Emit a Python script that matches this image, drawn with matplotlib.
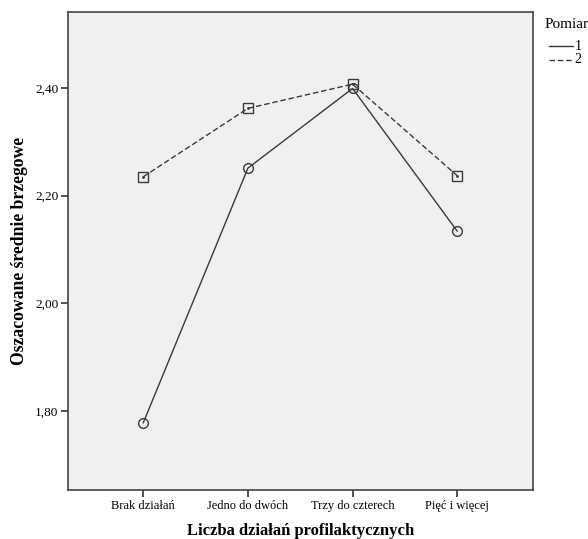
import matplotlib
matplotlib.use("Agg")
import matplotlib.pyplot as plt
from matplotlib.lines import Line2D
from matplotlib.ticker import FuncFormatter

plt.rcParams['font.family'] = ['Liberation Serif', 'DejaVu Serif']

categories = ['Brak działań', 'Jedno do dwóch', 'Trzy do czterech', 'Pięć i więcej']
pomiar_1 = [1.778, 2.251, 2.399, 2.134]
pomiar_2 = [2.235, 2.362, 2.407, 2.237]
series_labels = ['1', '2']
y_ticks = [1.80, 2.00, 2.20, 2.40]

line_col = '#3a3a3a'
dash = (0, (4, 2))
x = list(range(len(categories)))

fig = plt.figure(figsize=(5.88, 5.39), dpi=100)
ax = fig.add_axes([0.1156, 0.0909, 0.7909, 0.8868])
ax.set_facecolor('#f0f0f0')

ax.plot(x, pomiar_1, color=line_col, lw=1.0, marker='o', ms=7,
        mfc='none', mec=line_col, mew=1.0)
ax.plot(x, pomiar_2, color=line_col, lw=1.0, ls=dash, marker='s', ms=7,
        mfc='none', mec=line_col, mew=1.0)
ax.plot(x, pomiar_2, ls='none', marker='.', ms=2, color=line_col)

ax.set_xlim(-0.72, 3.725)
ax.set_ylim(1.653, 2.541)
ax.set_xticks(x)
ax.set_xticklabels(categories, fontsize=9)
ax.set_yticks(y_ticks)
ax.yaxis.set_major_formatter(FuncFormatter(lambda v, p: f'{v:.2f}'.replace('.', ',')))
ax.tick_params(axis='both', direction='out', length=5, width=1.2, color='#333333',
               labelsize=9.5, pad=2)
ax.tick_params(axis='x', labelsize=9)
for s in ax.spines.values():
    s.set_color('#444444')
    s.set_linewidth(1.2)

ax.set_xlabel('Liczba działań profilaktycznych', fontsize=12, fontweight='bold', labelpad=8)
ax.set_ylabel('Oszacowane średnie brzegowe', fontsize=12.7, fontweight='bold', labelpad=5)

# legend drawn by hand (SPSS style: title, then short line + label)
fig.text(545 / 588, 1 - 24 / 539, 'Pomiar', fontsize=11, va='center', ha='left')
styles = ['-', dash]
for i, (lab, st) in enumerate(zip(series_labels, styles)):
    yy = 1 - (46 + 14 * i) / 539
    fig.add_artist(Line2D([549 / 588, 573 / 588], [yy, yy], color=line_col,
                          lw=1.0, ls=st, transform=fig.transFigure))
    fig.text(574.5 / 588, yy, lab, fontsize=10, va='center', ha='left')

fig.savefig('out.png', dpi=100, facecolor='white')
